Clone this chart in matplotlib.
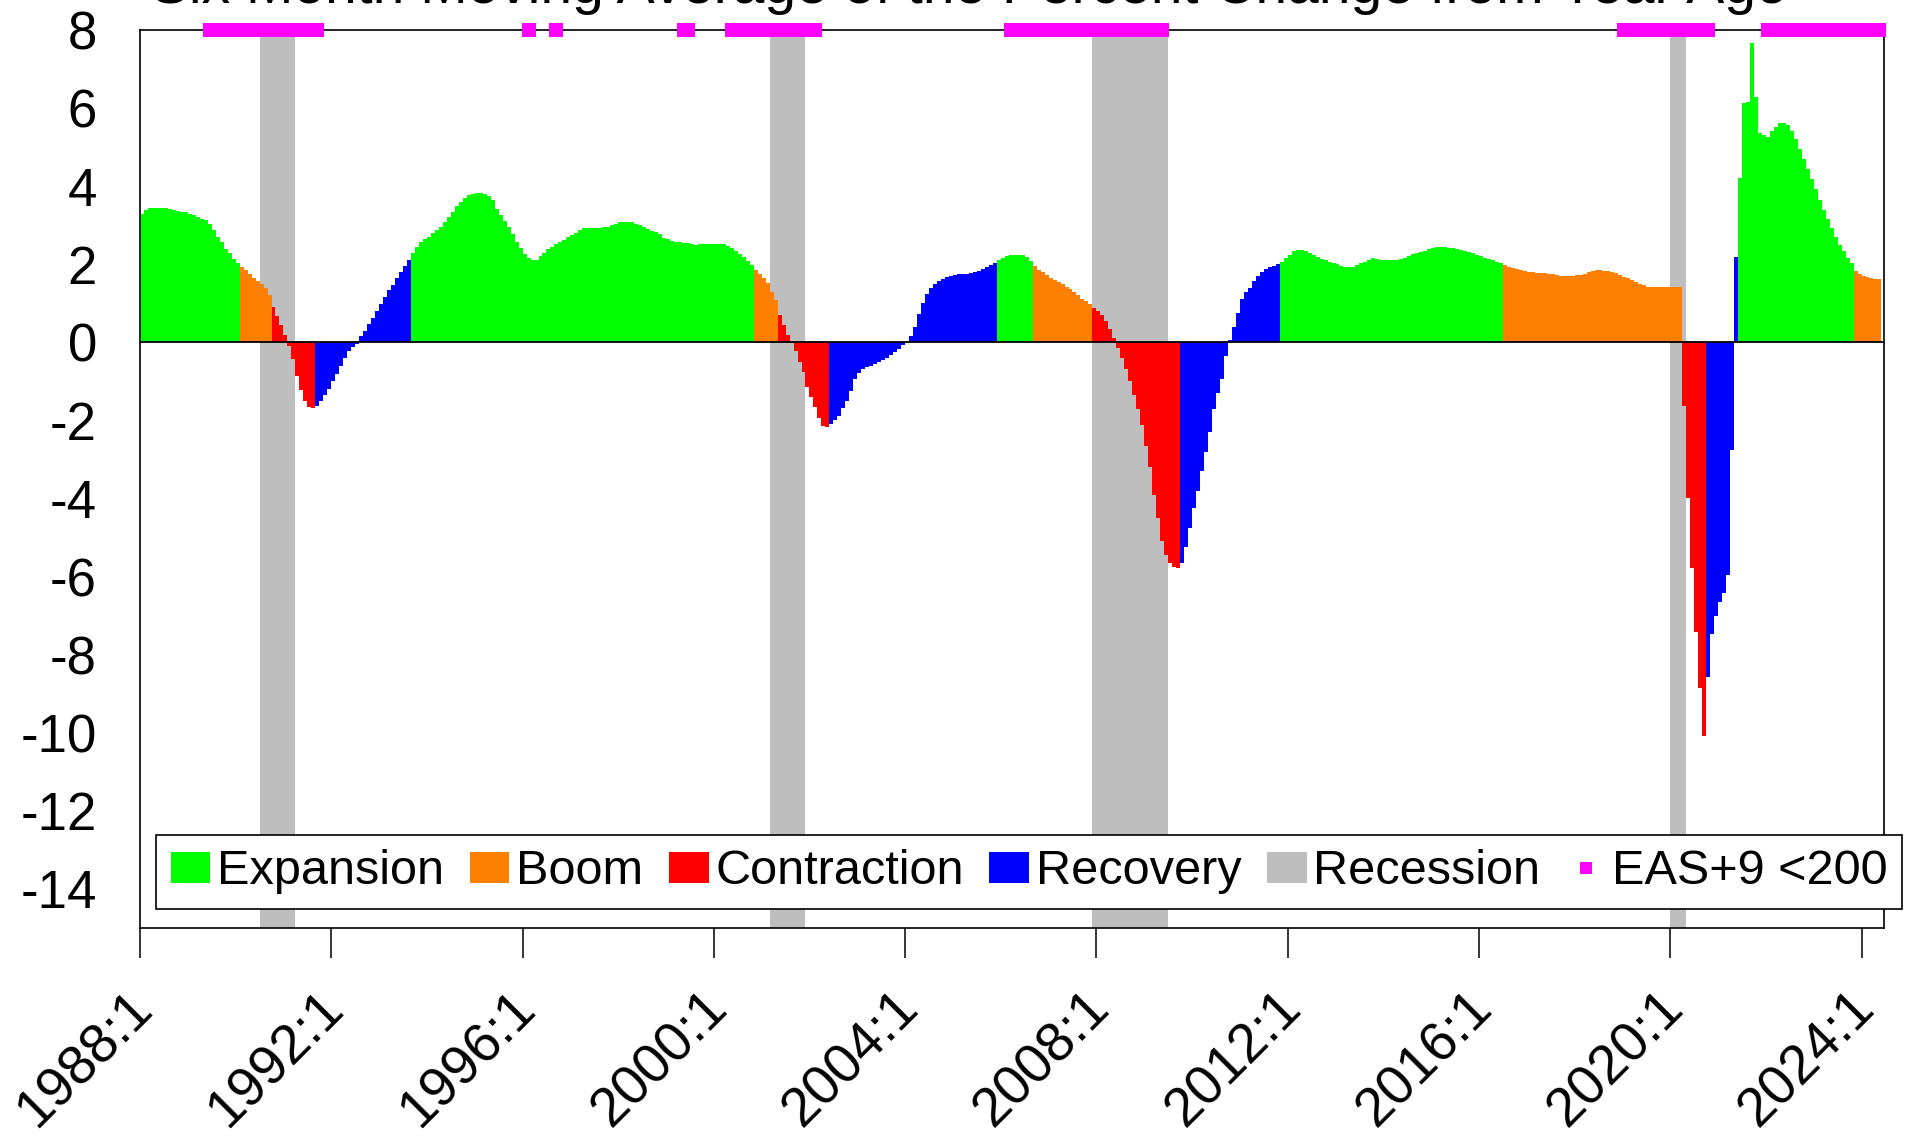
import numpy as np
import matplotlib
matplotlib.use("Agg")
import matplotlib.pyplot as plt
from matplotlib.patches import Patch
from matplotlib.lines import Line2D
from matplotlib.transforms import ScaledTranslation

plt.rcParams['font.family'] = ['Liberation Sans', 'DejaVu Sans']

title = "Six Month Moving Average of the Percent Change from Year Ago"

# monthly values, 1988:1 - 2024:5 (one row per year)
pct_change = [
    3.30, 3.40, 3.43, 3.44, 3.45, 3.45, 3.44, 3.42, 3.38, 3.36, 3.35, 3.33,  # 1988
    3.30, 3.26, 3.22, 3.17, 3.13, 3.02, 2.87, 2.70, 2.57, 2.40, 2.28, 2.13,  # 1989
    2.04, 1.93, 1.85, 1.74, 1.66, 1.58, 1.50, 1.38, 1.22, 0.90, 0.68, 0.45,  # 1990
    0.18, -0.10, -0.42, -0.85, -1.22, -1.50, -1.65, -1.68, -1.64, -1.50, -1.35, -1.19,  # 1991
    -1.00, -0.82, -0.60, -0.40, -0.22, -0.12, -0.04, 0.15, 0.30, 0.46, 0.62, 0.80,  # 1992
    0.98, 1.15, 1.33, 1.48, 1.64, 1.80, 1.96, 2.10, 2.28, 2.45, 2.58, 2.64,  # 1993
    2.70, 2.80, 2.88, 2.96, 3.08, 3.21, 3.35, 3.50, 3.60, 3.70, 3.77, 3.81,  # 1994
    3.83, 3.83, 3.80, 3.74, 3.64, 3.42, 3.25, 3.10, 2.95, 2.78, 2.58, 2.42,  # 1995
    2.26, 2.15, 2.10, 2.12, 2.20, 2.30, 2.38, 2.45, 2.51, 2.58, 2.63, 2.70,  # 1996
    2.76, 2.80, 2.88, 2.92, 2.94, 2.94, 2.94, 2.94, 2.95, 2.96, 3.00, 3.03,  # 1997
    3.07, 3.09, 3.09, 3.07, 3.04, 3.00, 2.95, 2.90, 2.86, 2.82, 2.77, 2.68,  # 1998
    2.64, 2.60, 2.57, 2.56, 2.55, 2.54, 2.52, 2.49, 2.51, 2.53, 2.53, 2.53,  # 1999
    2.53, 2.53, 2.52, 2.48, 2.41, 2.34, 2.26, 2.18, 2.08, 1.97, 1.85, 1.75,  # 2000
    1.65, 1.52, 1.30, 1.08, 0.70, 0.45, 0.20, -0.02, -0.22, -0.50, -0.75, -1.15,  # 2001
    -1.40, -1.66, -1.95, -2.13, -2.17, -2.10, -2.00, -1.88, -1.68, -1.50, -1.25, -0.95,  # 2002
    -0.78, -0.68, -0.63, -0.60, -0.55, -0.50, -0.45, -0.40, -0.32, -0.25, -0.16, -0.08,  # 2003
    0.02, 0.15, 0.40, 0.72, 1.00, 1.25, 1.40, 1.50, 1.57, 1.62, 1.67, 1.70,  # 2004
    1.73, 1.74, 1.75, 1.76, 1.77, 1.80, 1.83, 1.87, 1.92, 1.97, 2.02, 2.10,  # 2005
    2.17, 2.22, 2.25, 2.23, 2.25, 2.24, 2.18, 2.08, 1.95, 1.86, 1.79, 1.72,  # 2006
    1.66, 1.60, 1.55, 1.49, 1.42, 1.36, 1.28, 1.20, 1.12, 1.05, 0.98, 0.88,  # 2007
    0.80, 0.70, 0.55, 0.35, 0.12, -0.15, -0.40, -0.68, -0.98, -1.35, -1.70, -2.12,  # 2008
    -2.65, -3.20, -3.90, -4.50, -5.10, -5.45, -5.65, -5.76, -5.78, -5.65, -5.25, -4.75,  # 2009
    -4.25, -3.80, -3.30, -2.80, -2.30, -1.70, -1.30, -0.95, -0.35, 0.05, 0.40, 0.74,  # 2010
    1.10, 1.28, 1.40, 1.58, 1.70, 1.80, 1.87, 1.92, 1.96, 2.00, 2.06, 2.15,  # 2011
    2.25, 2.33, 2.36, 2.36, 2.34, 2.30, 2.24, 2.19, 2.14, 2.10, 2.07, 2.03,  # 2012
    2.00, 1.96, 1.94, 1.93, 1.94, 1.98, 2.03, 2.07, 2.11, 2.15, 2.14, 2.12,  # 2013
    2.10, 2.10, 2.10, 2.11, 2.13, 2.17, 2.22, 2.26, 2.29, 2.32, 2.35, 2.39,  # 2014
    2.42, 2.43, 2.43, 2.43, 2.42, 2.41, 2.39, 2.37, 2.35, 2.32, 2.28, 2.24,  # 2015
    2.21, 2.17, 2.14, 2.11, 2.07, 2.03, 1.97, 1.94, 1.91, 1.88, 1.85, 1.82,  # 2016
    1.80, 1.79, 1.78, 1.78, 1.77, 1.76, 1.74, 1.72, 1.70, 1.69, 1.69, 1.70,  # 2017
    1.72, 1.73, 1.76, 1.80, 1.83, 1.85, 1.85, 1.84, 1.82, 1.80, 1.77, 1.73,  # 2018
    1.68, 1.64, 1.60, 1.55, 1.50, 1.46, 1.43, 1.42, 1.42, 1.42, 1.42, 1.42,  # 2019
    1.42, 1.42, 1.41, -1.63, -3.98, -5.78, -7.41, -8.86, -10.08, -8.57, -7.47, -7.00,  # 2020
    -6.65, -6.42, -5.96, -2.76, 2.19, 4.20, 6.12, 6.15, 7.66, 6.29, 5.35, 5.30,  # 2021
    5.26, 5.42, 5.52, 5.62, 5.62, 5.56, 5.42, 5.20, 4.95, 4.70, 4.45, 4.18,  # 2022
    3.92, 3.65, 3.40, 3.15, 2.92, 2.70, 2.50, 2.33, 2.17, 2.02, 1.82, 1.74,  # 2023
    1.70, 1.67, 1.65, 1.63, 1.63,  # 2024
]

# business cycle phase runs (first month, last month)
phase_runs = [
    ("Expansion", "1988:1", "1990:1"),
    ("Boom", "1990:2", "1990:9"),
    ("Contraction", "1990:10", "1991:8"),
    ("Recovery", "1991:9", "1993:8"),
    ("Expansion", "1993:9", "2000:10"),
    ("Boom", "2000:11", "2001:4"),
    ("Contraction", "2001:5", "2002:5"),
    ("Recovery", "2002:6", "2005:11"),
    ("Expansion", "2005:12", "2006:8"),
    ("Boom", "2006:9", "2007:11"),
    ("Contraction", "2007:12", "2009:9"),
    ("Recovery", "2009:10", "2011:10"),
    ("Expansion", "2011:11", "2016:6"),
    ("Boom", "2016:7", "2020:3"),
    ("Contraction", "2020:4", "2020:9"),
    ("Recovery", "2020:10", "2021:5"),
    ("Expansion", "2021:6", "2023:10"),
    ("Boom", "2023:11", "2024:5"),
]

recessions = [("1990:7", "1991:3"), ("2001:3", "2001:11"),
              ("2007:12", "2009:6"), ("2020:1", "2020:4")]

# months where EAS+9 is below 200
eas_low = [("1989:6", "1991:9"), ("1996:2", "1996:2"), ("1996:9", "1996:9"),
           ("1999:5", "1999:6"), ("2000:5", "2002:2"), ("2006:3", "2009:5"),
           ("2019:1", "2020:10"), ("2022:1", "2024:5")]

tick_years = [1988, 1992, 1996, 2000, 2004, 2008, 2012, 2016, 2020, 2024]
tick_labels = [f"{y}:1" for y in tick_years]
y_ticks = [8, 6, 4, 2, 0, -2, -4, -6, -8, -10, -12, -14]

phase_colors = {"Expansion": "#00FF00", "Boom": "#FF8000",
                "Contraction": "#FF0000", "Recovery": "#0000FF"}
recession_color = "#BEBEBE"
eas_color = "#FF00FF"


def ym(s):
    y, m = s.split(":")
    return int(y) + (int(m) - 1) / 12


def month_index(s):
    y, m = s.split(":")
    return (int(y) - 1988) * 12 + int(m) - 1


n = len(pct_change)
x = 1988 + np.arange(n) / 12
colors = [None] * n
for phase, a, b in phase_runs:
    for k in range(month_index(a), month_index(b) + 1):
        colors[k] = phase_colors[phase]

fig = plt.figure(figsize=(19.08, 11.46), dpi=100)
ax = fig.add_axes([140 / 1908, 1 - 928 / 1146, 1744 / 1908, 898 / 1146])

for a, b in recessions:
    ax.axvspan(ym(a), ym(b) + 1 / 12, color=recession_color, lw=0, zorder=0)

ax.bar(x, pct_change, width=1 / 12, align="edge", color=colors,
       linewidth=0, antialiased=False, zorder=2)
ax.axhline(0, color="black", lw=1.3, zorder=3)

# EAS+9 markers along the top edge
eas_x = []
for a, b in eas_low:
    eas_x += list(1988 + (np.arange(month_index(a), month_index(b) + 1) + 0.5) / 12)
ax.plot(eas_x, [8] * len(eas_x), "s", color=eas_color, markersize=9.8,
        markeredgewidth=0, clip_on=False, zorder=6)

ax.set_xlim(1988, 2024.47)
ax.set_ylim(-15, 8)

ax.set_yticks(y_ticks)
ax.set_yticklabels([str(v) for v in y_ticks], fontsize=38)
ax.tick_params(axis="y", length=0, pad=31)

ax.set_xticks(tick_years)
ax.set_xticklabels(tick_labels, fontsize=39.5, rotation=45, ha="right",
                   va="top", rotation_mode="anchor")
ax.tick_params(axis="x", length=21.6, width=1.1, pad=17)
for lab in ax.get_xticklabels():
    lab.set_transform(lab.get_transform() + ScaledTranslation(-13 / 100, 0, fig.dpi_scale_trans))

for sp in ax.spines.values():
    sp.set_linewidth(1.2)
    sp.set_zorder(4)

handles = [Patch(facecolor=phase_colors["Expansion"], edgecolor="none"),
           Patch(facecolor=phase_colors["Boom"], edgecolor="none"),
           Patch(facecolor=phase_colors["Contraction"], edgecolor="none"),
           Patch(facecolor=phase_colors["Recovery"], edgecolor="none"),
           Patch(facecolor=recession_color, edgecolor="none"),
           Line2D([], [], marker="s", ls="none", color=eas_color,
                  markersize=8, markeredgewidth=0)]
names = ["Expansion", "Boom", "Contraction", "Recovery", "Recession", "EAS+9 <200"]
leg = ax.legend(handles, names, ncol=6, fontsize=35, loc="lower left",
                bbox_to_anchor=(0.0092, 0.0212), borderaxespad=0,
                handlelength=0.82, handleheight=0.62, handletextpad=0.14,
                columnspacing=0.52, borderpad=0.3, fancybox=False,
                framealpha=1, edgecolor="black")
leg.get_frame().set_linewidth(1.2)
leg.set_zorder(7)

fig.text(969 / 1908, 1 - 3 / 1146, title, ha="center", va="baseline", fontsize=41)

fig.savefig("out.png", dpi=100)
